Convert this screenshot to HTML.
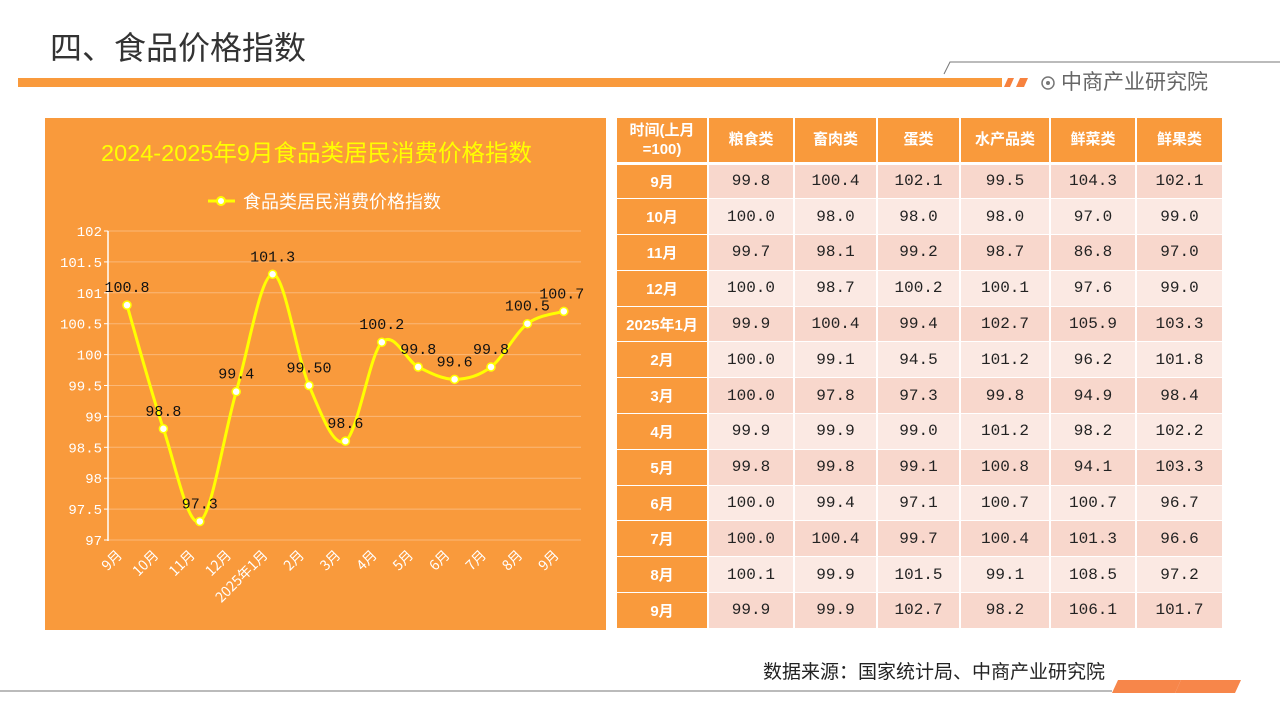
<!DOCTYPE html>
<html><head><meta charset="utf-8">
<style>
*{margin:0;padding:0;box-sizing:border-box}
body{width:1280px;height:720px;background:#fff;position:relative;overflow:hidden;font-family:"Liberation Sans","Noto Sans CJK SC",sans-serif}
.abs{position:absolute}
table{position:absolute;left:615px;top:118px;border-collapse:collapse;table-layout:fixed;width:607px}
td{height:35.8px;text-align:center;font-family:"Liberation Mono","Noto Sans CJK SC",monospace;font-size:16px;color:#222;border:2px solid #fff;border-top:none;border-bottom:1px solid #fff}
td.h{background:#f99a3c;color:#fff;font-family:"Liberation Sans","Noto Sans CJK SC",sans-serif;font-weight:bold;font-size:15px}
th{background:#f99a3c;color:#fff;font-weight:bold;font-size:15px;height:45px;border:2px solid #fff;border-top:none;border-bottom:3px solid #fff;line-height:19px}
tr.a td:not(.h){background:#f8d7cc}
tr.b td:not(.h){background:#fbe9e3}
</style></head><body>
<div class="abs" style="left:50px;top:25px;font-size:32px;color:#333;font-family:'Noto Sans CJK SC',sans-serif;line-height:42px">四、食品价格指数</div>
<div class="abs" style="left:18px;top:78px;width:984px;height:9px;background:#f99a3c"></div>
<svg class="abs" style="left:0;top:0" width="1280" height="720">
<polygon points="1004,87 1008,78 1014,78 1010,87" fill="#f7823e"/>
<polygon points="1016,87 1020,78 1028,78 1024,87" fill="#f7823e"/>
<polyline points="944,74 950,62 1280,62" fill="none" stroke="#777" stroke-width="1"/>
<circle cx="1048" cy="83" r="6" fill="none" stroke="#777" stroke-width="1.5"/><circle cx="1048" cy="83" r="2" fill="#777"/>
<line x1="0" y1="691" x2="1112" y2="691" stroke="#777" stroke-width="1"/>
<g fill="#f7864a"><polygon points="1112,693 1118,680 1150,680 1144,693"/><polygon points="1143,693 1149,680 1181,680 1175,693"/><polygon points="1175,693 1181,680 1213,680 1207,693"/><polygon points="1206,693 1212,680 1241,680 1235,693"/></g>
</svg>
<div class="abs" style="left:1061px;top:69px;font-size:21px;color:#666;line-height:28px">中商产业研究院</div>
<div class="abs" style="left:763px;top:660px;font-size:19px;color:#222;line-height:26px">数据来源：国家统计局、中商产业研究院</div>

<div class="abs" style="left:45px;top:118px;width:561px;height:512px;background:#f99a3c"></div>
<div class="abs" style="left:45px;top:137px;width:543px;text-align:center;font-size:23.5px;color:#ffff00;line-height:32px">2024-2025年9月食品类居民消费价格指数</div>
<svg class="abs" style="left:0;top:0" width="610" height="640" id="ch">
<g stroke="#fbb878" stroke-width="1" id="grid"></g>
<line x1="108" y1="231" x2="108" y2="541" stroke="#fff" stroke-width="1.5"/>
<line x1="208" y1="201" x2="235" y2="201" stroke="#ffff00" stroke-width="3"/><circle cx="221" cy="201" r="4" fill="#fff" stroke="#ffff00" stroke-width="2"/>
<text x="243" y="208" fill="#fff" font-size="18" font-family="Noto Sans CJK SC,sans-serif">食品类居民消费价格指数</text>
<path id="ln" fill="none" stroke="#ffff00" stroke-width="3"/>
<g id="pts"></g>
</svg>
<script>
var vals=[100.8,98.8,97.3,99.4,101.3,99.5,98.6,100.2,99.8,99.6,99.8,100.5,100.7];
var lbl=["100.8","98.8","97.3","99.4","101.3","99.50","98.6","100.2","99.8","99.6","99.8","100.5","100.7"];
var xl=["9月","10月","11月","12月","2025年1月","2月","3月","4月","5月","6月","7月","8月","9月"];
var ns="http://www.w3.org/2000/svg",g=document.getElementById('grid'),svg=document.getElementById('ch'),pg=document.getElementById('pts');
function el(t,a,p,txt){var e=document.createElementNS(ns,t);for(var k in a)e.setAttribute(k,a[k]);if(txt)e.textContent=txt;(p||svg).appendChild(e);return e}
for(var i=0;i<=10;i++){var y=540-i*30.9;el('line',{x1:108,x2:581,y1:y,y2:y},g);
el('line',{x1:104,x2:108,y1:y,y2:y,stroke:'#fff'});
el('text',{x:102,y:y+5,'text-anchor':'end',fill:'#fff','font-size':14,'font-family':'Liberation Mono,monospace'},null,String(97+i*0.5))}
var P=vals.map(function(v,i){return [127+36.4*i,540-(v-97)*61.8]});
var d='M'+P[0];
for(var i=0;i<P.length-1;i++){var p0=P[i-1]||P[i],p1=P[i],p2=P[i+1],p3=P[i+2]||P[i+1];
d+=' C'+(p1[0]+(p2[0]-p0[0])/6)+','+(p1[1]+(p2[1]-p0[1])/6)+' '+(p2[0]-(p3[0]-p1[0])/6)+','+(p2[1]-(p3[1]-p1[1])/6)+' '+p2[0]+','+p2[1]}
document.getElementById('ln').setAttribute('d',d);
P.forEach(function(p,i){el('circle',{cx:p[0],cy:p[1],r:4,fill:'#fff',stroke:'#ffff00','stroke-width':1.5},pg);
el('text',{x:p[0]+(i==12?-2:0),y:p[1]-13,'text-anchor':'middle',fill:'#111','font-size':15,'font-family':'Liberation Mono,monospace'},null,lbl[i]);
el('text',{x:p[0]-4,y:556,'text-anchor':'end',fill:'#fff','font-size':14,'font-family':'Noto Sans CJK SC,sans-serif',transform:'rotate(-45 '+(p[0]-4)+' 556)'},null,xl[i]);});
</script>

<table>
<colgroup><col style="width:92px"><col style="width:86px"><col style="width:83px"><col style="width:83px"><col style="width:90px"><col style="width:86px"><col style="width:87px"></colgroup>
<tr><th>时间(上月<br>=100)</th><th>粮食类</th><th>畜肉类</th><th>蛋类</th><th>水产品类</th><th>鲜菜类</th><th>鲜果类</th></tr>
<tr class="a"><td class="h">9月</td><td>99.8</td><td>100.4</td><td>102.1</td><td>99.5</td><td>104.3</td><td>102.1</td></tr>
<tr class="b"><td class="h">10月</td><td>100.0</td><td>98.0</td><td>98.0</td><td>98.0</td><td>97.0</td><td>99.0</td></tr>
<tr class="a"><td class="h">11月</td><td>99.7</td><td>98.1</td><td>99.2</td><td>98.7</td><td>86.8</td><td>97.0</td></tr>
<tr class="b"><td class="h">12月</td><td>100.0</td><td>98.7</td><td>100.2</td><td>100.1</td><td>97.6</td><td>99.0</td></tr>
<tr class="a"><td class="h">2025年1月</td><td>99.9</td><td>100.4</td><td>99.4</td><td>102.7</td><td>105.9</td><td>103.3</td></tr>
<tr class="b"><td class="h">2月</td><td>100.0</td><td>99.1</td><td>94.5</td><td>101.2</td><td>96.2</td><td>101.8</td></tr>
<tr class="a"><td class="h">3月</td><td>100.0</td><td>97.8</td><td>97.3</td><td>99.8</td><td>94.9</td><td>98.4</td></tr>
<tr class="b"><td class="h">4月</td><td>99.9</td><td>99.9</td><td>99.0</td><td>101.2</td><td>98.2</td><td>102.2</td></tr>
<tr class="a"><td class="h">5月</td><td>99.8</td><td>99.8</td><td>99.1</td><td>100.8</td><td>94.1</td><td>103.3</td></tr>
<tr class="b"><td class="h">6月</td><td>100.0</td><td>99.4</td><td>97.1</td><td>100.7</td><td>100.7</td><td>96.7</td></tr>
<tr class="a"><td class="h">7月</td><td>100.0</td><td>100.4</td><td>99.7</td><td>100.4</td><td>101.3</td><td>96.6</td></tr>
<tr class="b"><td class="h">8月</td><td>100.1</td><td>99.9</td><td>101.5</td><td>99.1</td><td>108.5</td><td>97.2</td></tr>
<tr class="a"><td class="h">9月</td><td>99.9</td><td>99.9</td><td>102.7</td><td>98.2</td><td>106.1</td><td>101.7</td></tr>
</table>
</body></html>
